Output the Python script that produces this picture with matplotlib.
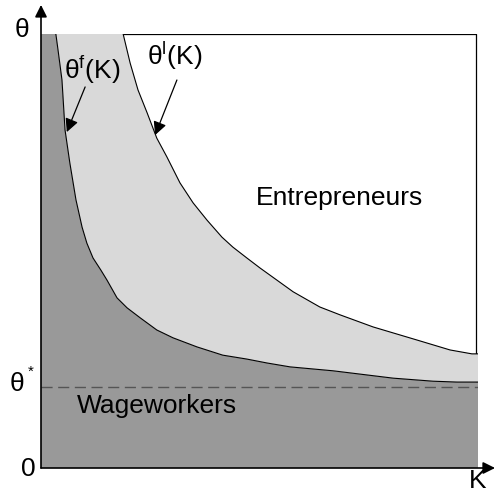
import matplotlib
matplotlib.use('Agg')
import matplotlib.pyplot as plt

plt.rcParams['font.family'] = ['Liberation Sans', 'DejaVu Sans']
plt.rcParams['mathtext.fontset'] = 'custom'
plt.rcParams['mathtext.rm'] = 'Liberation Sans'
plt.rcParams['mathtext.it'] = 'Liberation Sans'

# theta^f(K): lower threshold (wageworkers below)
k_f = [0.034, 0.039, 0.048, 0.055, 0.066, 0.080, 0.094, 0.105, 0.119, 0.137,
       0.151, 0.174, 0.197, 0.227, 0.265, 0.302, 0.357, 0.416, 0.471, 0.517,
       0.570, 0.668, 0.806, 0.897, 0.952, 1.0]
th_f = [1.0, 0.963, 0.894, 0.779, 0.703, 0.618, 0.555, 0.518, 0.484, 0.456,
        0.433, 0.392, 0.369, 0.346, 0.318, 0.300, 0.279, 0.260, 0.251, 0.242,
        0.233, 0.224, 0.207, 0.200, 0.198, 0.198]

# theta^l(K): upper threshold (entrepreneurs above)
k_l = [0.188, 0.204, 0.222, 0.243, 0.265, 0.288, 0.318, 0.348, 0.380, 0.414,
       0.439, 0.471, 0.501, 0.577, 0.638, 0.684, 0.760, 0.860, 0.936, 0.986,
       1.0]
th_l = [1.0, 0.933, 0.871, 0.818, 0.760, 0.717, 0.657, 0.611, 0.571, 0.532,
        0.509, 0.484, 0.461, 0.406, 0.371, 0.353, 0.325, 0.295, 0.272, 0.263,
        0.263]

theta_star = 0.187

fig = plt.figure(figsize=(4.96, 4.93), dpi=100)
ax = fig.add_axes([41 / 496, 25 / 493, 437 / 496, 434 / 493])
ax.set_xlim(0, 1)
ax.set_ylim(0, 1)
ax.axis('off')

# outer box (top + right)
ax.plot([0, 0.995, 0.995], [1, 1, 0], color='black', lw=0.9, zorder=1)

# dark region: wageworkers
dark_x = [0, 0] + k_f + [1]
dark_y = [0, 1] + th_f + [0]
ax.fill(dark_x, dark_y, color='#999999', lw=0, zorder=2)

# light region between the thresholds
light_x = k_f + k_l[::-1]
light_y = th_f + th_l[::-1]
ax.fill(light_x, light_y, color='#d9d9d9', lw=0, zorder=2)

ax.plot(k_f, th_f, color='black', lw=0.8, zorder=3)
ax.plot(k_l, th_l, color='black', lw=0.8, zorder=3)

ax.plot([0, 1], [theta_star, theta_star], color='#555555', lw=1.0,
        dashes=(8, 4), zorder=3)

# axes with arrows
ax.annotate('', xy=(0, 1.067), xytext=(0, 0), annotation_clip=False,
            arrowprops=dict(arrowstyle='-|>', color='black', lw=1.2,
                            mutation_scale=18, shrinkA=0, shrinkB=0), zorder=5)
ax.annotate('', xy=(1.039, 0), xytext=(0, 0), annotation_clip=False,
            arrowprops=dict(arrowstyle='-|>', color='black', lw=1.2,
                            mutation_scale=18, shrinkA=0, shrinkB=0), zorder=5)

fs = 19
ax.text(-0.043, 1.009, 'θ', fontsize=fs, ha='center', va='center')
ax.text(-0.055, 0.193, 'θ', fontsize=fs, ha='center', va='center')
ax.text(-0.024, 0.222, '*', fontsize=11, ha='center', va='center')
ax.text(-0.030, -0.002, '0', fontsize=fs, ha='center', va='center')
ax.text(1.0, -0.030, 'K', fontsize=fs, ha='center', va='center')

ax.text(0.117, 0.917, r'$\mathregular{θ^{f}(K)}$', fontsize=fs,
        ha='center', va='center', zorder=6)
ax.text(0.307, 0.949, r'$\mathregular{θ^{l}(K)}$', fontsize=fs,
        ha='center', va='center', zorder=6)

ax.annotate('', xy=(0.059, 0.774), xytext=(0.101, 0.878),
            arrowprops=dict(arrowstyle='-|>', color='black', lw=0.9,
                            mutation_scale=20, shrinkA=0, shrinkB=0), zorder=6)
ax.annotate('', xy=(0.261, 0.767), xytext=(0.311, 0.894),
            arrowprops=dict(arrowstyle='-|>', color='black', lw=0.9,
                            mutation_scale=20, shrinkA=0, shrinkB=0), zorder=6)

ax.text(0.684, 0.622, 'Entrepreneurs', fontsize=fs, ha='center', va='center')
ax.text(0.265, 0.143, 'Wageworkers', fontsize=fs, ha='center', va='center',
        zorder=6)

fig.savefig('out.png', dpi=100)
